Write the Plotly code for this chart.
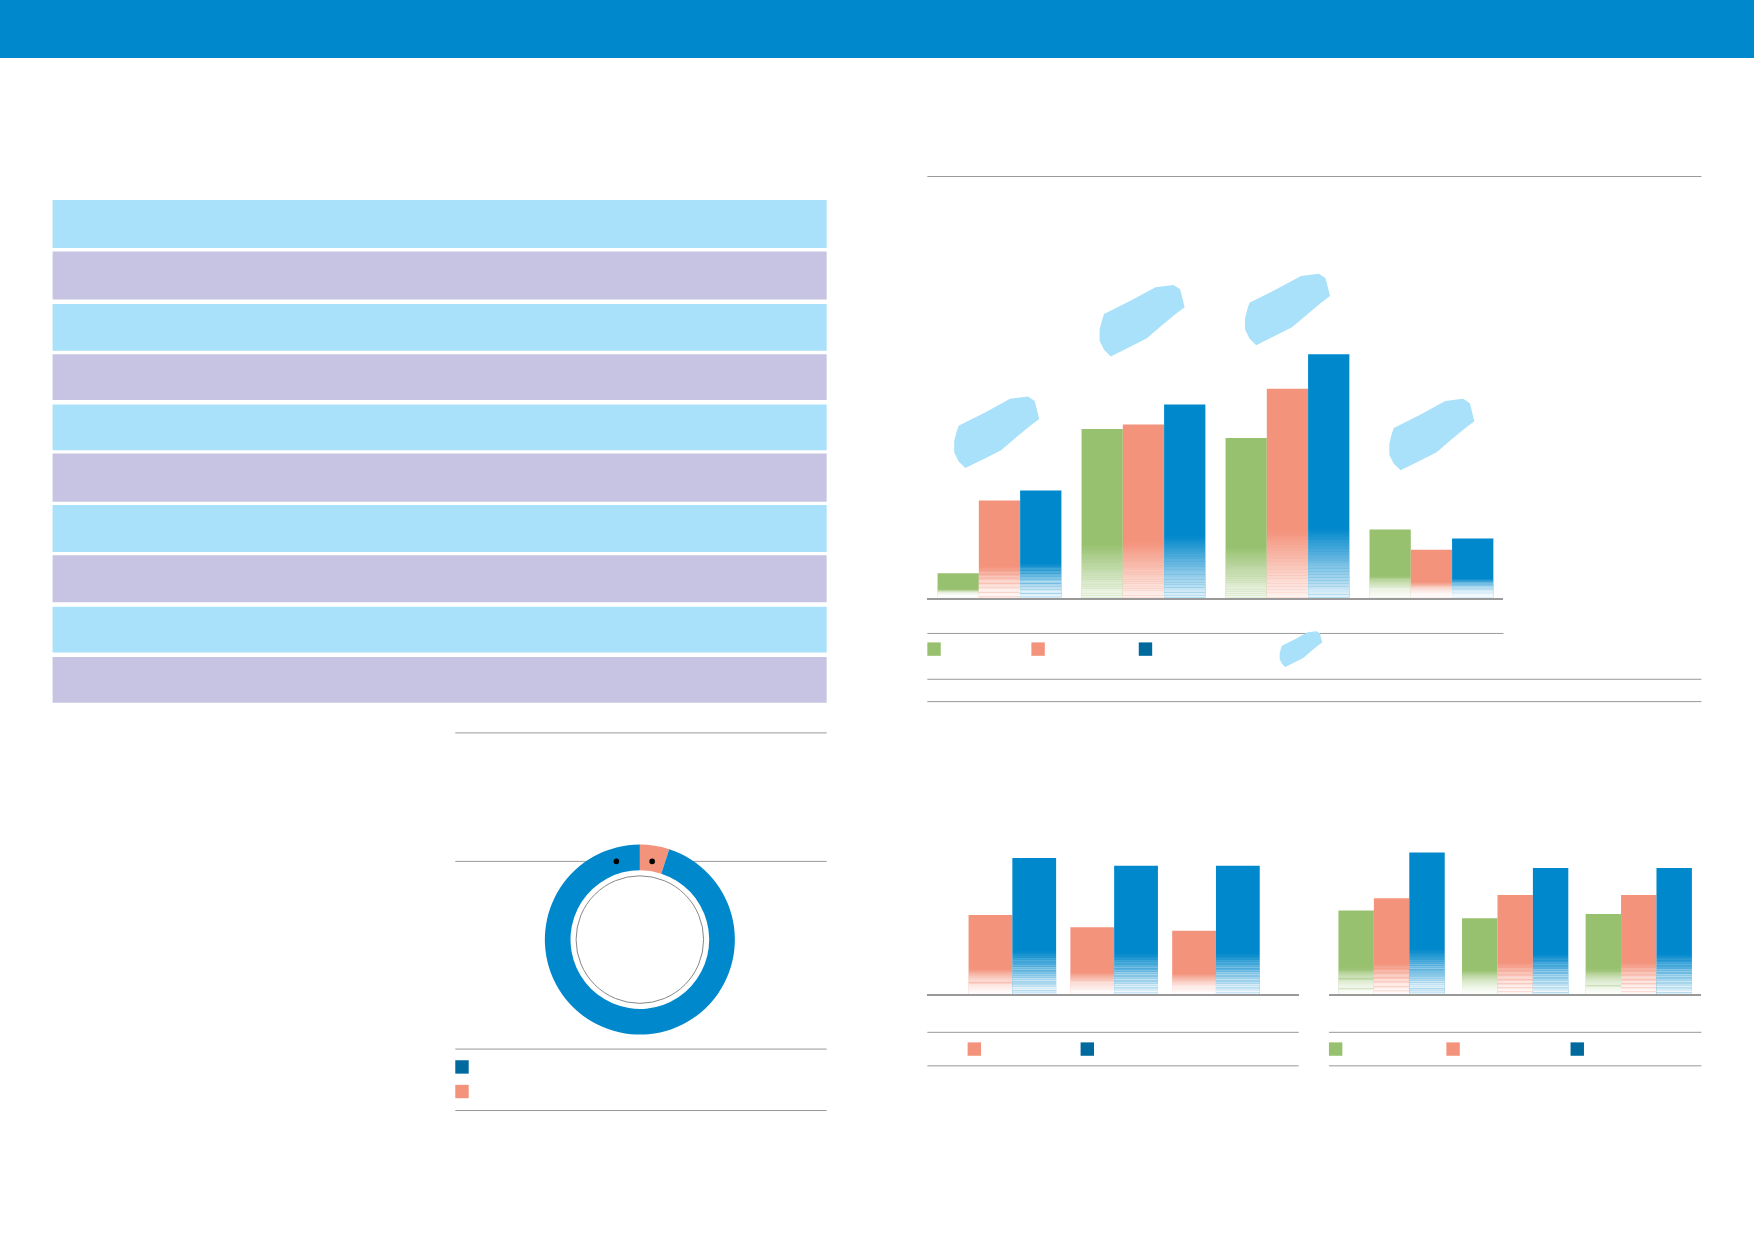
import plotly.graph_objects as go

W, H = 1754, 1239
DW, DH = 1568, 1109.0
def px(x): return x / DW
def py(y): return 1 - y / DH

GREEN, SALMON, BLUE, DARK, LBLUE, LAV = "#97c16e", "#f4937c", "#0088cc", "#006a9e", "#a8e1f9", "#c6c4e2"

# ---- data ----
main_cats = ["A", "B", "C", "D"]
main_green = [22, 151, 143, 61]
main_salmon = [87, 155, 187, 43]
main_blue = [96, 173, 218, 53]

bl_cats = ["A", "B", "C"]
bl_salmon = [71, 60, 57]
bl_blue = [122, 115, 115]

br_cats = ["A", "B", "C"]
br_green = [75, 68, 72]
br_salmon = [86, 89, 89]
br_blue = [127, 113, 113]

donut_labels = ["Salmon", "Blue"]
donut_values = [5, 95]

table_rows = 10

fig = go.Figure()

def add_series(vals, cats, color, group, xa, ya):
    fig.add_trace(go.Bar(x=cats, y=vals, marker=dict(color=color, line=dict(width=0)),
                         offsetgroup=group, xaxis=xa, yaxis=ya, showlegend=False, hoverinfo="skip"))
    n = 24
    for i in range(n):
        fade = [min(0.32 * v, 62) for v in vals]
        base = [f * i / n for f in fade]
        seg = [f / n for f in fade]
        op = 0.9 * (1 - (i + 0.5) / n)
        fig.add_trace(go.Bar(x=cats, y=seg, base=base, offsetgroup=group, xaxis=xa, yaxis=ya,
                             marker=dict(color="white", opacity=op, line=dict(width=0)),
                             showlegend=False, hoverinfo="skip"))

add_series(main_green, main_cats, GREEN, "g", "x", "y")
add_series(main_salmon, main_cats, SALMON, "s", "x", "y")
add_series(main_blue, main_cats, BLUE, "b", "x", "y")
add_series(bl_salmon, bl_cats, SALMON, "s", "x2", "y2")
add_series(bl_blue, bl_cats, BLUE, "b", "x2", "y2")
add_series(br_green, br_cats, GREEN, "g", "x3", "y3")
add_series(br_salmon, br_cats, SALMON, "s", "x3", "y3")
add_series(br_blue, br_cats, BLUE, "b", "x3", "y3")

fig.add_trace(go.Pie(labels=donut_labels, values=donut_values, hole=0.73, sort=False,
                     direction="clockwise", rotation=0,
                     marker=dict(colors=[SALMON, BLUE], line=dict(width=0)),
                     textinfo="none", showlegend=False, hoverinfo="skip",
                     domain=dict(x=[px(572) - 95 / W, px(572) + 95 / W],
                                 y=[py(841) - 95 / H, py(841) + 95 / H])))

ax_common = dict(showgrid=False, zeroline=False, showticklabels=False, ticks="")
fig.update_layout(
    width=W, height=H, margin=dict(l=0, r=0, t=0, b=0), paper_bgcolor="white", plot_bgcolor="rgba(0,0,0,0)",
    barmode="group",
    xaxis=dict(domain=[px(829), px(1344)], range=[-0.501, 3.50], type="category", anchor="y",
               showline=True, linecolor="#999", linewidth=1.5, **ax_common),
    yaxis=dict(domain=[py(535), py(235)], range=[0, 300], anchor="x", showline=False, **ax_common),
    xaxis2=dict(domain=[px(829), px(1161)], range=[-0.835, 2.813], type="category", anchor="y2",
                showline=True, linecolor="#999", linewidth=1.5, **ax_common),
    yaxis2=dict(domain=[py(890), py(740)], range=[0, 150], anchor="x2", showline=False, **ax_common),
    xaxis3=dict(domain=[px(1188), px(1521)], range=[-0.507, 2.507], type="category", anchor="y3",
                showline=True, linecolor="#999", linewidth=1.5, **ax_common),
    yaxis3=dict(domain=[py(890), py(740)], range=[0, 150], anchor="x3", showline=False, **ax_common),
    bargap=0.14, bargroupgap=0,
)

shapes = []
def rect(x0, y0, x1, y1, color, layer="below"):
    shapes.append(dict(type="rect", xref="paper", yref="paper", x0=px(x0), x1=px(x1), y0=py(y1), y1=py(y0),
                       fillcolor=color, line=dict(width=0), layer=layer))
def hline(x0, x1, y, color="#999", w=1):
    shapes.append(dict(type="line", xref="paper", yref="paper", x0=px(x0), x1=px(x1), y0=py(y), y1=py(y),
                       line=dict(color=color, width=w), layer="below"))

rect(0, 0, 1568, 52, BLUE)
rows = [(179, 222), (225, 268), (272, 314), (317, 358), (362, 403), (406, 449), (452, 494), (497, 539), (543, 584), (588, 629)]
for i, (a, b) in enumerate(rows[:table_rows]):
    rect(47, a, 739, b, LBLUE if i % 2 == 0 else LAV)

hline(829, 1521, 158)
hline(829, 1344, 567)
hline(829, 1521, 608)
hline(829, 1521, 628)
for x, c in ((835, GREEN), (928, SALMON), (1024, DARK)):
    rect(x - 6, 575, x + 6, 587, c)

hline(829, 1161, 924); hline(829, 1161, 954)
hline(1188, 1521, 924); hline(1188, 1521, 954)
for x, c in ((871, SALMON), (972, DARK)):
    rect(x - 6, 933, x + 6, 945, c)
for x, c in ((1194, GREEN), (1299, SALMON), (1410, DARK)):
    rect(x - 6, 933, x + 6, 945, c)

hline(407, 739, 656); hline(407, 739, 771); hline(407, 739, 939); hline(407, 739, 994)
rect(407, 949, 419, 961, DARK); rect(407, 971, 419, 983, SALMON)
shapes.append(dict(type="circle", xref="paper", yref="paper",
                   x0=px(572) - 57 * 1.1186 / W, x1=px(572) + 57 * 1.1186 / W,
                   y0=py(841) - 57 * 1.1186 / H, y1=py(841) + 57 * 1.1186 / H,
                   fillcolor="white", line=dict(color="#888", width=1), layer="above"))
for x in (551, 583):
    shapes.append(dict(type="circle", xref="paper", yref="paper",
                       x0=px(x - 2.5), x1=px(x + 2.5), y0=py(773.5), y1=py(768.5),
                       fillcolor="black", line=dict(width=0), layer="above"))

def brush(cx, cy, s=1.0):
    pts = [(-38, 8), (-36, 0), (-34, -6), (-10, -18), (12, -30), (28, -32), (34, -28), (36, -20), (38, -12),
           (30, -6), (18, 4), (4, 16), (-12, 24), (-28, 32), (-34, 26), (-38, 18)]
    d = "M " + " L ".join(f"{px(cx + x * s):.5f},{py(cy + y * s):.5f}" for x, y in pts) + " Z"
    shapes.append(dict(type="path", path=d, xref="paper", yref="paper", fillcolor=LBLUE,
                       line=dict(width=0), layer="above"))

brush(891, 387)
brush(1021, 287)
brush(1151, 277)
brush(1280, 389)
brush(1163, 581, 0.5)

fig.update_layout(shapes=shapes)
fig.write_html("out.html", config={"displayModeBar": False},
               post_script="document.body.style.margin='0';document.body.style.overflow='hidden';")
